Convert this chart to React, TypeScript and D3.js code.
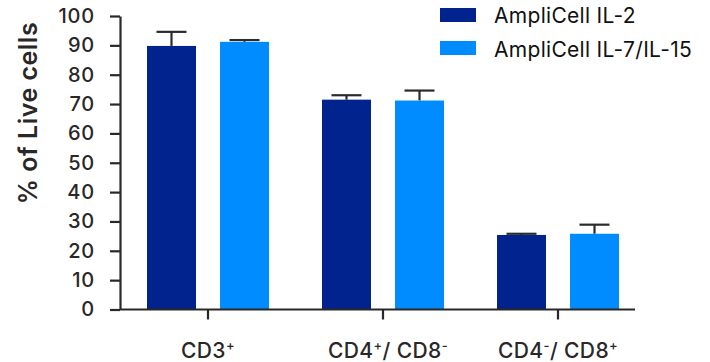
import { useEffect, useRef } from 'react';
import * as d3 from 'd3';

const categories = ['CD3', 'CD4/CD8-', 'CD4-/CD8'];
const seriesNames = ['AmpliCell IL-2', 'AmpliCell IL-7/IL-15'];
const seriesColors = ['#00238e', '#008cff'];
const il2Values = [89.8, 71.5, 25.4];
const il2Errors = [4.8, 1.5, 0.4];
const il715Values = [91.2, 71.2, 25.8];
const il715Errors = [0.6, 3.4, 3.1];
const yTicks = [0, 10, 20, 30, 40, 50, 60, 70, 80, 90, 100];

// superscript parts of the category labels
const labelParts = [
  [['CD3', ''], ['+', 'sup']],
  [['CD4', ''], ['+', 'sup'], ['/ CD8', ''], ['-', 'sup']],
  [['CD4', ''], ['-', 'sup'], ['/ CD8', ''], ['+', 'sup']],
];

const W = 710;
const H = 362;
const FONT = 'Inter, "DejaVu Sans", sans-serif';
const INK = '#2a2727';

export default function App() {
  const svgRef = useRef<SVGSVGElement>(null);

  useEffect(() => {
    const svg = d3.select(svgRef.current);
    svg.selectAll('*').remove();

    const left = 120;
    const axisRight = 635;
    const y = d3.scaleLinear().domain([0, 100]).range([309.5, 16]);
    const x = d3.scaleBand().domain(categories).range([120.5, 645.5]);
    const sub = d3.scaleBand().domain(seriesNames).range([-61, 61]).paddingInner(0.329);

    const rows = categories.map((c, i) => ({
      cat: c,
      bars: [
        { s: seriesNames[0], v: il2Values[i], e: il2Errors[i], color: seriesColors[0] },
        { s: seriesNames[1], v: il715Values[i], e: il715Errors[i], color: seriesColors[1] },
      ],
    }));

    const g = svg.append('g');

    const groups = g.selectAll('g.cat')
      .data(rows)
      .join('g')
      .attr('class', 'cat')
      .attr('transform', d => `translate(${x(d.cat)! + x.bandwidth() / 2},0)`);

    // error bars first so bars cover the stem bottom
    groups.selectAll('g.err')
      .data(d => d.bars)
      .join('g')
      .attr('class', 'err')
      .each(function (d) {
        const cx = sub(d.s)! + sub.bandwidth() / 2;
        const sel = d3.select(this);
        sel.append('line')
          .attr('x1', cx).attr('x2', cx)
          .attr('y1', y(d.v)).attr('y2', y(d.v + d.e))
          .attr('stroke', '#2b2b2b').attr('stroke-width', 2.2);
        sel.append('line')
          .attr('x1', cx - 15).attr('x2', cx + 15)
          .attr('y1', y(d.v + d.e)).attr('y2', y(d.v + d.e))
          .attr('stroke', '#2b2b2b').attr('stroke-width', 2.2);
      });

    groups.selectAll('rect')
      .data(d => d.bars)
      .join('rect')
      .attr('x', d => sub(d.s)!)
      .attr('width', sub.bandwidth())
      .attr('y', d => y(d.v))
      .attr('height', d => y(0) - y(d.v))
      .attr('fill', d => d.color);

    // y axis
    const yAxis = g.append('g')
      .attr('transform', `translate(${left},0)`)
      .call(d3.axisLeft(y).tickValues(yTicks).tickSize(10).tickSizeOuter(0));
    yAxis.select('.domain').attr('stroke', INK).attr('stroke-width', 2.2);
    yAxis.selectAll('.tick line').attr('stroke', INK).attr('stroke-width', 2.2);
    yAxis.selectAll('.tick text')
      .attr('x', -25)
      .attr('fill', INK)
      .style('font-family', FONT)
      .style('font-size', '20px')
      .style('letter-spacing', '0.8px')
      .style('font-weight', '500');

    // x axis
    const xAxis = g.append('g')
      .attr('transform', `translate(0,${y(0)})`)
      .call(d3.axisBottom(x).tickSize(10).tickSizeOuter(0).tickFormat(() => ''));
    xAxis.select('.domain').remove();
    xAxis.selectAll('.tick line').attr('stroke', INK).attr('stroke-width', 2.2);
    g.append('line')
      .attr('x1', left).attr('x2', axisRight)
      .attr('y1', y(0)).attr('y2', y(0))
      .attr('stroke', INK).attr('stroke-width', 2.2);

    categories.forEach((c, i) => {
      const t = g.append('text')
        .attr('x', x(c)! + x.bandwidth() / 2 + (i === 1 ? 5 : 0))
        .attr('y', 357.5)
        .attr('text-anchor', 'middle')
        .attr('fill', INK)
        .style('font-family', FONT)
        .style('font-size', '21px')
        .style('letter-spacing', '0.4px')
        .style('font-weight', '500');
      labelParts[i].forEach(([txt, kind]) => {
        const ts = t.append('tspan').text(txt);
        if (kind === 'sup') {
          ts.attr('dy', -8).style('font-size', '13px');
        } else if (t.selectAll('tspan').size() > 1) {
          ts.attr('dy', 8);
        }
      });
    });

    // y label
    svg.append('text')
      .attr('transform', `translate(37,113) rotate(-90)`)
      .attr('text-anchor', 'middle')
      .attr('fill', INK)
      .style('font-family', FONT)
      .style('font-size', '25px')
      .style('letter-spacing', '0.5px')
      .style('font-weight', '600')
      .text('% of Live cells');

    // legend
    const legend = svg.append('g').attr('transform', 'translate(440,8)');
    seriesNames.forEach((s, i) => {
      legend.append('rect')
        .attr('x', 0).attr('y', i * 33)
        .attr('width', 36).attr('height', 14)
        .attr('fill', seriesColors[i]);
      legend.append('text')
        .attr('x', 54).attr('y', i * 34 + 14.5)
        .attr('fill', '#111')
        .style('font-family', FONT)
        .style('font-size', '21px')
        .style('letter-spacing', '0.3px')
        .text(s);
    });
  }, []);

  return (
    <svg
      ref={svgRef}
      width={W}
      height={H}
      style={{ position: 'absolute', left: 0, top: 0, background: '#fff' }}
    />
  );
}
